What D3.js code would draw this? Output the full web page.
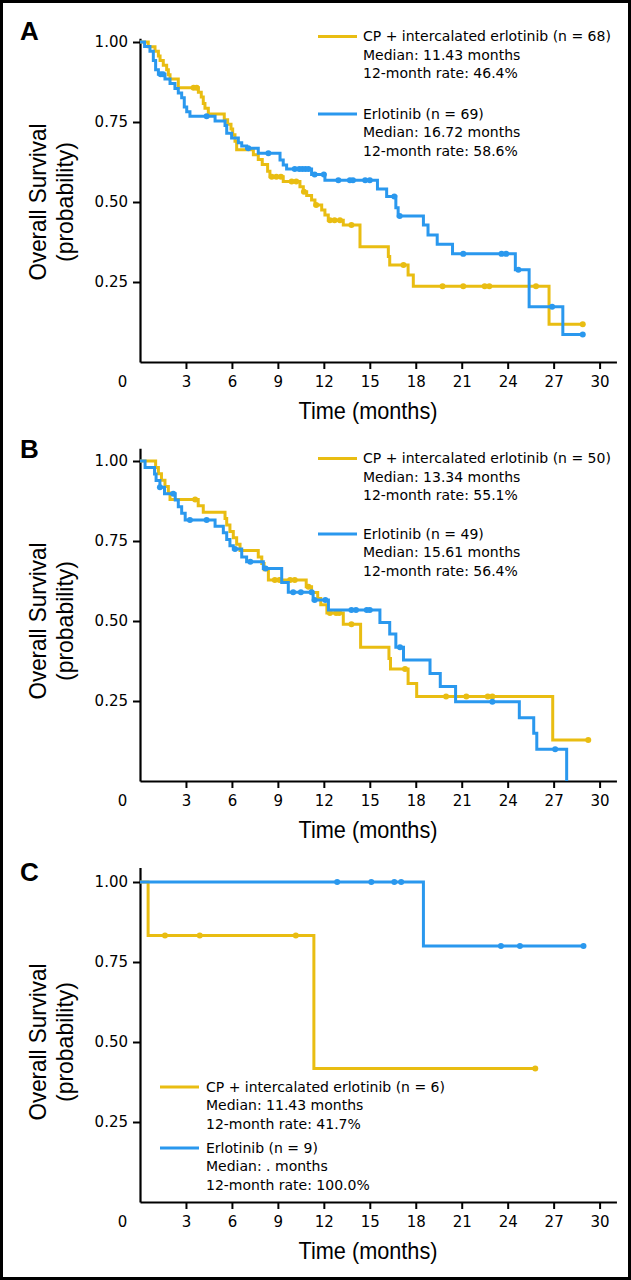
<!DOCTYPE html>
<html><head><meta charset="utf-8">
<script src="https://cdn.jsdelivr.net/npm/d3@7"></script>
<style>
body{margin:0;background:#fff;}
svg{display:block;}
</style></head><body>
<svg id="chart" width="631" height="1280"></svg>
<script>
// ---------------- DATA ----------------
const xTickValues = [0, 3, 6, 9, 12, 15, 18, 21, 24, 27, 30];
const yTickValues = [0.25, 0.50, 0.75, 1.00];
const panelLabels = ["A", "B", "C"];
const seriesNames = ["CP + intercalated erlotinib", "Erlotinib"];
const yTitleLines = ["Overall Survival", "(probability)"];
const xTitle = "Time (months)";

// Panel A
const aCpTimes = [0.54,0.98,1.2,1.31,1.52,1.74,1.85,1.96,2.5,3.81,4.0,4.13,4.24,4.46,5.5,5.72,5.94,6.05,6.2,6.31,7.4,7.72,7.98,8.33,8.48,9.35,10.44,10.66,10.88,11.2,11.42,11.86,12.07,12.29,13.27,14.36,16.21,16.3,17.5,17.84,26.7];
const aCpSurv  = [0.985,0.971,0.956,0.942,0.927,0.913,0.898,0.884,0.857,0.843,0.828,0.808,0.793,0.775,0.757,0.743,0.728,0.71,0.69,0.663,0.648,0.633,0.617,0.596,0.579,0.564,0.548,0.532,0.52,0.506,0.491,0.475,0.459,0.443,0.428,0.36,0.33,0.303,0.272,0.237,0.118];
const aCpCensor = [3.5,3.7,8.6,8.9,9.2,9.9,10.2,10.7,11.5,12.4,12.7,13.05,13.8,17.2,19.75,21.1,22.5,22.8,25.85,28.9];
const aCpEnd = 28.9;
const aErTimes = [0.3,0.65,0.87,1.02,1.2,1.63,1.96,2.28,2.5,2.72,2.89,3.05,3.26,4.9,5.55,5.66,5.98,6.42,6.64,6.96,7.72,9.14,9.35,9.57,11.2,12.07,15.5,16.1,16.7,16.85,18.5,18.8,19.4,20.4,24.5,25.4,27.6];
const aErSurv  = [0.986,0.971,0.942,0.913,0.899,0.884,0.870,0.855,0.841,0.826,0.797,0.782,0.768,0.753,0.739,0.715,0.700,0.685,0.675,0.668,0.652,0.631,0.616,0.603,0.586,0.568,0.541,0.517,0.482,0.456,0.428,0.397,0.368,0.338,0.288,0.173,0.086];
const aErCensor = [1.35,1.5,4.35,7.07,8.38,10.1,10.4,10.6,10.8,11.0,11.4,12.0,12.95,13.7,13.9,14.7,15.0,16.6,16.95,21.1,23.6,23.9,24.7,26.9,28.9];
const aErEnd = 28.9;
const aN = [68, 69];
const aMedians = ["11.43", "16.72"];
const aRates = ["46.4%", "58.6%"];

// Panel B
const bCpTimes = [1.02,1.2,1.4,1.63,1.85,1.96,3.8,4.13,5.55,5.66,5.87,6.09,6.31,6.53,7.72,7.95,8.1,8.38,10.85,11.2,11.6,11.8,12.2,13.27,14.4,16.25,16.35,17.5,18.06,26.94];
const bCpSurv  = [0.98,0.96,0.94,0.92,0.90,0.88,0.86,0.84,0.82,0.80,0.78,0.76,0.74,0.72,0.70,0.68,0.66,0.628,0.607,0.589,0.57,0.551,0.525,0.49,0.418,0.383,0.35,0.305,0.264,0.128];
const bCpCensor = [3.6,8.8,9.1,9.8,10.1,11.0,12.4,12.8,13.0,13.8,17.3,19.98,21.3,22.7,23.0,29.26];
const bCpEnd = 29.26;
const bErTimes = [0.33,0.95,1.05,1.3,1.6,2.3,2.5,2.72,2.95,4.9,5.44,5.66,5.87,6.09,6.64,6.96,8.05,9.25,9.68,11.3,12.3,15.66,16.3,16.7,17.2,18.93,19.6,20.6,24.76,25.7,25.9,27.85];
const bErSurv  = [0.98,0.959,0.939,0.918,0.898,0.878,0.857,0.837,0.816,0.796,0.776,0.755,0.735,0.725,0.70,0.685,0.664,0.62,0.59,0.566,0.534,0.495,0.459,0.418,0.378,0.336,0.295,0.248,0.198,0.149,0.099,0];
const bErCensor = [1.3,2.17,3.26,4.35,6.2,7.2,8.2,10.0,10.5,11.2,11.4,12.1,13.8,14.1,14.8,15.0,16.97,23.0,27.1];
const bErEnd = 27.85;
const bN = [50, 49];
const bMedians = ["13.34", "15.61"];
const bRates = ["55.1%", "56.4%"];

// Panel C
const cCpTimes = [0.53, 11.35];
const cCpSurv  = [0.833, 0.417];
const cCpCensor = [1.63, 3.9, 10.17, 25.8];
const cCpEnd = 25.8;
const cErTimes = [18.5];
const cErSurv  = [0.8];
const cErCensor = [12.87, 15.1, 16.6, 17.05, 23.56, 24.8, 28.95];
const cErEnd = 28.95;
const cN = [6, 9];
const cMedians = ["11.43", "."];
const cRates = ["41.7%", "100.0%"];

// ---------------- STYLE / LAYOUT ----------------
const colors = ["#E9BD12", "#2A98EE"];
const W = 631, H = 1280;
const xLeft = 140, pxPerMonth = 15.32, xDomainMax = 31.1, plotH = 320;
const tickFont = "'DejaVu Sans', sans-serif";
const titleFont = "'Liberation Sans', Arial, sans-serif";

const panels = [
  {label: panelLabels[0], bottom: 362, yMax: 1.012, labelY: 39.5,
   series: [
     {times: aCpTimes, surv: aCpSurv, censor: aCpCensor, end: aCpEnd},
     {times: aErTimes, surv: aErSurv, censor: aErCensor, end: aErEnd}],
   n: aN, medians: aMedians, rates: aRates,
   legend: {x1: 318, x2: 357, tx: 363, rows: [36.5, 114]}},
  {label: panelLabels[1], bottom: 781, yMax: 1.04, labelY: 458,
   series: [
     {times: bCpTimes, surv: bCpSurv, censor: bCpCensor, end: bCpEnd},
     {times: bErTimes, surv: bErSurv, censor: bErCensor, end: bErEnd}],
   n: bN, medians: bMedians, rates: bRates,
   legend: {x1: 318, x2: 357, tx: 363, rows: [458.5, 534]}},
  {label: panelLabels[2], bottom: 1202, yMax: 1.045, labelY: 881,
   series: [
     {times: cCpTimes, surv: cCpSurv, censor: cCpCensor, end: cCpEnd},
     {times: cErTimes, surv: cErSurv, censor: cErCensor, end: cErEnd}],
   n: cN, medians: cMedians, rates: cRates,
   legend: {x1: 160, x2: 199, tx: 206, rows: [1087, 1148]}}
];

const svg = d3.select("#chart");
svg.append("rect").attr("x", 1.5).attr("y", 1.5).attr("width", W - 3).attr("height", H - 3)
  .attr("fill", "#fff").attr("stroke", "#000").attr("stroke-width", 3);

const x = d3.scaleLinear().domain([0, xDomainMax]).range([xLeft, xLeft + xDomainMax * pxPerMonth]);

function survAt(times, surv, t) {
  let s = 1;
  for (let i = 0; i < times.length; i++) { if (times[i] <= t) s = surv[i]; }
  return s;
}

panels.forEach(p => {
  const g = svg.append("g");
  const y = d3.scaleLinear().domain([0, p.yMax]).range([p.bottom, p.bottom - plotH * p.yMax]);

  // panel letter
  g.append("text").attr("x", 20).attr("y", p.labelY).text(p.label)
    .attr("font-family", titleFont).attr("font-weight", "bold").attr("font-size", 26).attr("fill", "#000");

  // y axis
  const ya = g.append("g").attr("transform", `translate(${xLeft},0)`)
    .call(d3.axisLeft(y).tickValues(yTickValues).tickSize(7).tickSizeOuter(0).tickPadding(5)
      .tickFormat(d3.format(".2f")));
  // x axis
  const xa = g.append("g").attr("transform", `translate(0,${p.bottom})`)
    .call(d3.axisBottom(x).tickValues(xTickValues).tickSize(7).tickSizeOuter(0).tickPadding(7)
      .tickFormat(d3.format("d")));
  [ya, xa].forEach(a => {
    a.select(".domain").attr("stroke", "#000").attr("stroke-width", 2.2);
    a.selectAll(".tick line").attr("stroke", "#000").attr("stroke-width", 2);
    a.selectAll(".tick text").attr("font-family", tickFont).attr("font-size", 15).attr("fill", "#000");
  });
  xa.selectAll(".tick").filter(d => d === 0).each(function () {
    d3.select(this).select("line").remove();
    d3.select(this).select("text").attr("x", -18);
  });

  // y title
  const yMid = y(0.5);
  yTitleLines.forEach((t, i) => {
    const len = i === 0 ? 157 : 120;
    const bx = i === 0 ? 46 : 73;
    g.append("text").attr("transform", `translate(${bx},${yMid}) rotate(-90)`)
      .attr("text-anchor", "middle").attr("font-family", titleFont).attr("font-size", 24)
      .attr("textLength", len).attr("lengthAdjust", "spacingAndGlyphs").attr("fill", "#000").text(t);
  });
  // x title
  g.append("text").attr("x", 368).attr("y", p.bottom + 57).attr("text-anchor", "middle")
    .attr("font-family", titleFont).attr("font-size", 24.5)
    .attr("textLength", 139).attr("lengthAdjust", "spacingAndGlyphs").attr("fill", "#000").text(xTitle);

  // curves
  const line = d3.line().x(d => x(d[0])).y(d => y(d[1])).curve(d3.curveStepAfter);
  p.series.forEach((s, k) => {
    const pts = [[0, 1]].concat(s.times.map((t, i) => [t, s.surv[i]]));
    pts.push([s.end, survAt(s.times, s.surv, s.end)]);
    g.append("path").attr("d", line(pts)).attr("fill", "none")
      .attr("stroke", colors[k]).attr("stroke-width", 3);
    g.selectAll(null).data(s.censor).enter().append("circle")
      .attr("cx", d => x(d)).attr("cy", d => y(survAt(s.times, s.surv, d)))
      .attr("r", 3).attr("fill", colors[k]);
  });

  // legend
  const L = p.legend;
  [0, 1].forEach(k => {
    const ly = L.rows[k];
    g.append("line").attr("x1", L.x1).attr("x2", L.x2).attr("y1", ly).attr("y2", ly)
      .attr("stroke", colors[k]).attr("stroke-width", 3);
    const lines = [`${seriesNames[k]} (n = ${p.n[k]})`, `Median: ${p.medians[k]} months`, `12-month rate: ${p.rates[k]}`];
    lines.forEach((t, j) => {
      g.append("text").attr("x", L.tx).attr("y", ly + 4.5 + j * 18.5)
        .attr("font-family", tickFont).attr("font-size", 14).attr("fill", "#000").text(t);
    });
  });
});
</script>
</body></html>
